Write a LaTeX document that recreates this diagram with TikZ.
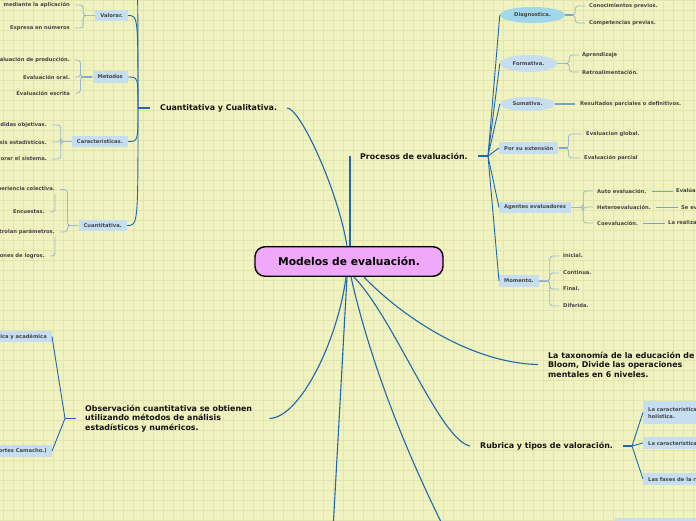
\documentclass[tikz,border=0pt]{standalone}
\usepackage{fontspec}
\setmainfont{DejaVu Sans}
\usetikzlibrary{calc,positioning,shapes.geometric}
\definecolor{paper}{HTML}{F0F2BF}
\definecolor{gridline}{HTML}{E2E5B0}
\definecolor{branch}{HTML}{2068B0}
\definecolor{stemc}{HTML}{7AA3C4}
\definecolor{twigc}{HTML}{9BBAD0}
\definecolor{boxc}{HTML}{C6DEF0}
\definecolor{diagc}{HTML}{A0D7EB}
\definecolor{hubc}{HTML}{F0A8FA}
\definecolor{ink}{HTML}{141414}
\definecolor{leafc}{HTML}{454545}
\tikzset{
  hub/.style={draw=black,line width=1.4pt,fill=hubc,rounded corners=10pt,minimum width=188pt,
    minimum height=29.5pt,text=black,font=\bfseries\fontsize{10.7}{12}\selectfont},
  topic/.style={inner sep=0pt,align=left,text=ink,font=\bfseries\fontsize{7.9}{9.5}\selectfont},
  sub/.style={fill=boxc,inner xsep=5pt,inner ysep=0pt,minimum height=11.5pt,text=leafc,
    font=\bfseries\fontsize{5.2}{7}\selectfont},
  oval/.style={ellipse,fill=boxc,inner sep=0pt,text=leafc,font=\bfseries\fontsize{5.2}{7}\selectfont},
  leaf/.style={inner sep=0pt,text=leafc,font=\bfseries\fontsize{5.2}{7}\selectfont},
  link/.style={draw=branch,line width=1.1pt},
  stem/.style={draw=stemc,line width=1.6pt},
  twig/.style={draw=twigc,line width=0.8pt,rounded corners=3pt}
}
\begin{document}
\begin{tikzpicture}[x=1pt,y=-1pt]
  % paper & grid
  \useasboundingbox (0,0) rectangle (696,520);
  \clip (0,0) rectangle (696,520);
  \fill[paper] (0,0) rectangle (696,520);
  \foreach \g in {3,13,...,693} \draw[gridline,line width=0.6pt] (\g,0) -- (\g,520);
  \foreach \g in {0,10,...,520} \draw[gridline,line width=0.6pt] (0,\g) -- (696,\g);

  % centre and main topics
  \node[hub] (root) at (349,261.5) {Modelos de evaluación.};
  \node[topic,anchor=west] (cuali) at (160,108) {Cuantitativa y Cualitativa.};
  \node[topic,anchor=west] (proc) at (360,156) {Procesos de evaluación.};
  \node[topic,anchor=west] (bloom) at (548,364.5) {La taxonomía de la educación de\\Bloom, Divide las operaciones\\mentales en 6 niveles.};
  \node[topic,anchor=west] (rubri) at (480,446) {Rubrica y tipos de valoración.};
  \node[topic,anchor=west] (obs) at (85,418.5) {Observación cuantitativa se obtienen\\utilizando métodos de análisis\\estadísticos y numéricos.};
  \coordinate (offA) at (333,530);
  \coordinate (offB) at (446,532);
  \draw[link] ([xshift=-2pt]root.north) .. controls (338,190) and (300,108) .. ([xshift=10pt]cuali.east);
  \draw[link] ([xshift=1pt]root.north) -- ([xshift=-10pt]proc.west);
  \draw[link] ([xshift=15pt]root.south) .. controls (400,315) and (470,363) .. ([xshift=-10pt]bloom.west);
  \draw[link] ([xshift=5pt]root.south) .. controls (395,320) and (440,440) .. ([xshift=-10pt]rubri.west);
  \draw[link] ([xshift=-3pt]root.south) .. controls (338,340) and (300,418) .. ([xshift=17pt]obs.east);
  \draw[link] ([xshift=-2pt]root.south) -- (offA);
  \draw[link] ([xshift=2pt]root.south) .. controls (372,370) and (410,460) .. (offB);

  % Cuantitativa y Cualitativa
  \coordinate (cj) at (138,108);
  \coordinate (cualiTop) at (128,-45);
  \draw[link,line width=2pt] (cj) -- ([xshift=-10pt]cuali.west);
  \node[sub,anchor=east] (val) at (128,15.5) {Valorar.};
  \node[sub,anchor=east] (meto) at (128,77) {Metodos};
  \node[sub,anchor=east] (cara) at (128,141.5) {Características.};
  \node[sub,anchor=east] (cuan) at (127,225.5) {Cuantitativa.};
  \foreach \c in {val,meto,cara,cuan}
    \draw[link,line width=0.9pt] (cj) .. controls (cj |- \c.east) .. (\c.east);
  \draw[link,line width=0.9pt] (cj) .. controls (cj |- cualiTop) .. (cualiTop);

  \node[leaf,anchor=east] (vA) at (70,5) {mediante la aplicación};
  \node[leaf,anchor=east] (vB) at (70,28) {Expresa en números};
  \draw[stem] (val.west) -- ++(-11,0);
  \foreach \c in {vA,vB} \draw[twig] (val.west) -- ++(-12,0) |- ([xshift=5pt]\c.east);

  \node[leaf,anchor=east] (mA) at (70,60) {Evaluación de producción.};
  \node[leaf,anchor=east] (mB) at (70,77) {Evaluación oral.};
  \node[leaf,anchor=east] (mC) at (70,93) {Evaluación escrita};
  \draw[stem,draw=branch!80] (meto.west) -- ++(-11,0);
  \foreach \c in {mA,mB,mC} \draw[twig] (meto.west) -- ++(-12,0) |- ([xshift=5pt]\c.east);

  \node[leaf,anchor=east] (kA) at (47,125) {Medidas objetivas.};
  \node[leaf,anchor=east] (kB) at (47,142) {Análisis estadísticos.};
  \node[leaf,anchor=east] (kC) at (47,159) {Mejorar el sistema.};
  \draw[stem] (cara.west) -- ++(-10,0);
  \foreach \c in {kA,kB,kC} \draw[twig] (cara.west) -- ++(-11,0) |- ([xshift=5pt]\c.east);

  \node[leaf,anchor=east] (qA) at (55,189.5) {Experiencia colectiva.};
  \node[leaf,anchor=east] (qB) at (55,232) {Controlan parámetros.};
  \node[leaf,anchor=east] (qe) at (45,212) {Encuestas.};
  \node[leaf,anchor=east] (ql) at (45,256) {Evaluaciones de logros.};
  \draw[stem] (cuan.west) -- ++(-10,0);
  \foreach \c in {qA,qB} \draw[twig] (cuan.west) -- ++(-11,0) |- ([xshift=5pt]\c.east);
  \draw[twig] ([yshift=-2pt]qA.south east) |- ([xshift=5pt]qe.east);
  \draw[twig] ([yshift=-2pt]qB.south east) |- ([xshift=5pt]ql.east);

  % Procesos de evaluacion
  \coordinate (pj) at (488,156);
  \draw[link] ([xshift=10pt]proc.east) -- (pj);
  \node[oval,fill=diagc,minimum width=65pt,minimum height=16pt] (diag) at (532.5,15) {Diagnostica.};
  \node[oval,minimum width=57pt,minimum height=17pt] (form) at (528.5,63.5) {Formativa.};
  \node[oval,minimum width=55pt,minimum height=14pt] (suma) at (527.5,104) {Sumativa.};
  \node[sub,anchor=west] (ext) at (499,148) {Por su extensión};
  \node[sub,anchor=west] (agen) at (499,207.5) {Agentes evaluadores};
  \node[sub,anchor=west] (mome) at (499,281) {Momento.};
  \foreach \c in {diag,form,suma,ext,agen,mome} \draw[link,line width=0.9pt] (pj) -- (\c.west);

  \node[leaf,anchor=west] (dA) at (589,6) {Conocimientos previos.};
  \node[leaf,anchor=west] (dB) at (589,23) {Competencias previas.};
  \draw[stem,draw=branch!80] (diag.east) -- ++(9,0);
  \foreach \c in {dA,dB} \draw[twig] (diag.east) -- ++(10,0) |- ([xshift=-4pt]\c.west);

  \node[leaf,anchor=west] (fA) at (582,55) {Aprendizaje};
  \node[leaf,anchor=west] (fB) at (582,72) {Retroalimentación.};
  \draw[stem,draw=branch!80] (form.east) -- ++(11,0);
  \foreach \c in {fA,fB} \draw[twig] (form.east) -- ++(12,0) |- ([xshift=-3pt]\c.west);

  \node[leaf,anchor=west] (sA) at (580,104) {Resultados parciales o definitivos.};
  \draw[stem] (suma.east) -- ([xshift=-5pt]sA.west);

  \node[leaf,anchor=west] (eA) at (586,134) {Evaluacion global.};
  \node[leaf,anchor=west] (eB) at (584,158) {Evaluación parcial};
  \draw[stem,draw=branch!80] (ext.east) -- ++(9,0);
  \foreach \c in {eA,eB} \draw[twig] (ext.east) -- ++(10,0) |- ([xshift=-4pt]\c.west);

  \node[leaf,anchor=west] (aA) at (597,191) {Auto evaluación.};
  \node[leaf,anchor=west] (aB) at (597,207) {Heteroevaluación.};
  \node[leaf,anchor=west] (aC) at (597,223) {Coevaluación.};
  \node[leaf,anchor=west] (gA) at (676,191) {Evalúa su desempeño.};
  \node[leaf,anchor=west] (gB) at (681,207) {Se evalúa a otros.};
  \node[leaf,anchor=west] (gC) at (668,223) {La realizan los pares.};
  \draw[stem] (agen.east) -- ++(11,0);
  \foreach \c in {aA,aB,aC} \draw[twig] (agen.east) -- ++(12,0) |- ([xshift=-4pt]\c.west);
  \foreach \a/\b in {aA/gA,aB/gB,aC/gC} \draw[stem,line width=1pt] ([xshift=5pt]\a.east) -- ([xshift=-3pt]\b.west);

  \node[leaf,anchor=west] (tA) at (563,256) {Inicial.};
  \node[leaf,anchor=west] (tB) at (563,273) {Continua.};
  \node[leaf,anchor=west] (tC) at (563,289) {Final.};
  \node[leaf,anchor=west] (tD) at (563,306) {Diferida.};
  \draw[stem] (mome.east) -- ++(10,0);
  \foreach \c in {tA,tB,tC,tD} \draw[twig] (mome.east) -- ++(11,0) |- ([xshift=-4pt]\c.west);

  % Rubrica
  \coordinate (rj) at (632,446);
  \draw[link,line width=1.6pt] ([xshift=10pt]rubri.east) -- (rj);
  \node[sub,anchor=west,align=left,minimum height=23pt] (rA) at (643,412.5) {La característica de la rúbrica\\holística.};
  \node[sub,anchor=west] (rB) at (643,443) {La característica de la rúbrica analítica.};
  \node[sub,anchor=west] (rC) at (643,479) {Las fases de la rúbrica.};
  \foreach \c in {rA,rB,rC} \draw[link,line width=0.9pt] (rj) -- (\c.west);
  \node[sub,anchor=north west,minimum width=90pt,minimum height=14pt] (lowbox) at (615,518) {};

  % Observacion cuantitativa
  \coordinate (oj) at (65,418.5);
  \draw[link,line width=1.6pt] ([xshift=-9pt]obs.west) -- (oj);
  \node[sub,anchor=east] (oA) at (52,336.5) {Práctica y académica};
  \node[sub,anchor=east] (oB) at (52,451) {(Cortes Camacho.)};
  \foreach \c in {oA,oB} \draw[link,line width=0.9pt] (oj) -- (\c.east);
\end{tikzpicture}
\end{document}
